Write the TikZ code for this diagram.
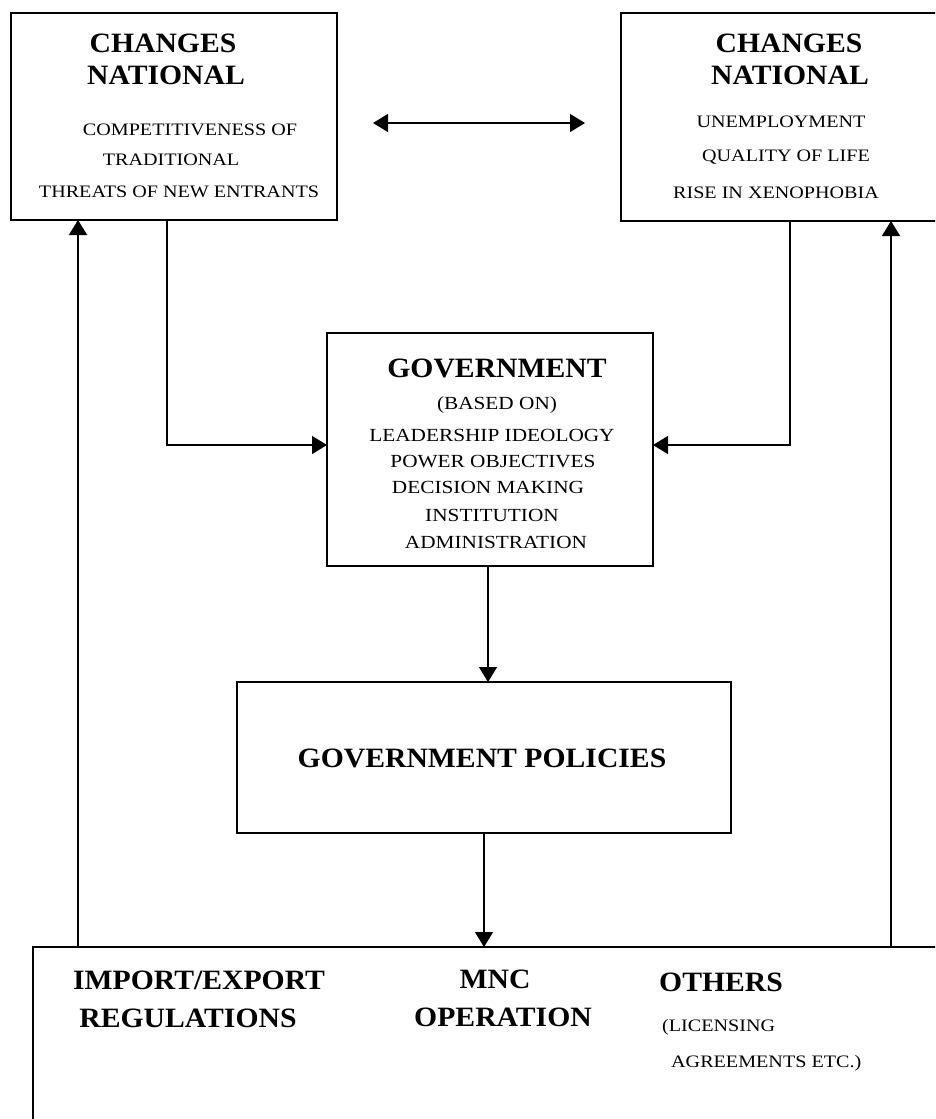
\documentclass[tikz,border=0pt]{standalone}
\usepackage{fontspec}
\setmainfont{Liberation Serif}
\newfontfamily\bodyf[FakeStretch=1.15]{Liberation Serif}
\newfontfamily\headf[FakeStretch=1.06]{Liberation Serif}
\usetikzlibrary{arrows.meta}
\begin{document}
\begin{tikzpicture}[x=1pt,y=-1pt,
  box/.style={draw, line width=1.6pt, inner sep=0pt, outer sep=0pt},
  conn/.style={line width=1.3pt},
  arr/.style={conn,-{Triangle[length=15pt,width=18pt]}},
  dbl/.style={conn,{Triangle[length=15pt,width=18pt]}-{Triangle[length=15pt,width=18pt]}},
  head/.style={font=\headf\bfseries\fontsize{28}{30}\selectfont, inner sep=0pt},
  body/.style={font=\bodyf\fontsize{17.5}{20}\selectfont, inner sep=0pt},
  gbody/.style={font=\bodyf\fontsize{18.5}{20}\selectfont, inner sep=0pt},
]
\clip (0,0) rectangle (935,1119);
\fill[white] (0,0) rectangle (935,1119);

% boxes
\node[box, minimum width=326pt, minimum height=207pt] (b1) at (174,116.5) {};
\node[box, minimum width=340pt, minimum height=208pt] (b2) at (791,117) {};
\node[box, minimum width=326pt, minimum height=233pt] (gov) at (490,449.5) {};
\node[box, minimum width=494pt, minimum height=151pt] (pol) at (484,757.5) {};
\node[box, minimum width=960pt, minimum height=260pt] (bot) at (513,1077) {};

% texts box 1
\node[head] (t1a) at (163,43) {CHANGES};
\node[head] (t1b) at (166,75) {NATIONAL};
\node[body] (t1c) at (190,130) {COMPETITIVENESS OF};
\node[body] (t1d) at (171,160) {TRADITIONAL};
\node[body] (t1e) at (179,192) {THREATS OF NEW ENTRANTS};

% texts box 2
\node[head] (t2a) at (789,43) {CHANGES};
\node[head] (t2b) at (790,75) {NATIONAL};
\node[body] (t2c) at (781,122) {UNEMPLOYMENT};
\node[body] (t2d) at (786,157) {QUALITY OF LIFE};
\node[body] (t2e) at (776,193) {RISE IN XENOPHOBIA};

% government
\node[head] (g1) at (497,368) {GOVERNMENT};
\node[gbody] (g2) at (497,405) {(BASED ON)};
\node[gbody] (g3) at (492,435) {LEADERSHIP IDEOLOGY};
\node[gbody] (g4) at (493,462) {POWER OBJECTIVES};
\node[gbody] (g5) at (488,487) {DECISION MAKING};
\node[gbody] (g6) at (492,515) {INSTITUTION};
\node[gbody] (g7) at (496,542) {ADMINISTRATION};

% policies
\node[head] (p1) at (482,758) {GOVERNMENT POLICIES};

% bottom
\node[head] (m1) at (199,980) {IMPORT/EXPORT};
\node[head] (m2) at (188,1018) {REGULATIONS};
\node[head] (m3) at (495,979) {MNC};
\node[head] (m4) at (503,1017) {OPERATION};
\node[head, anchor=west] (m5) at (659,982) {OTHERS};
\node[body, anchor=west] (m6) at (662,1027) {(LICENSING};
\node[body, anchor=west] (m7) at (671,1063) {AGREEMENTS ETC.)};

% connector columns
\coordinate (xL) at (78,0);
\coordinate (xl) at (167,0);
\coordinate (xr) at (790,0);
\coordinate (xR) at (891,0);
\coordinate (xm) at (488,0);
\coordinate (xp) at (484,0);
\coordinate (ya) at (0,123);
\coordinate (yg) at (0,445);

\draw[dbl, shorten <=36pt, shorten >=36pt] (b1.east |- ya) -- (b2.west |- ya);
\draw[arr] (b1.south -| xl) |- (gov.west |- yg);
\draw[arr] (b2.south -| xr) |- (gov.east |- yg);
\draw[arr] (gov.south -| xm) -- (pol.north -| xm);
\draw[arr] (pol.south -| xp) -- (bot.north -| xp);
\draw[arr] (bot.north -| xL) -- (b1.south -| xL);
\draw[arr] (bot.north -| xR) -- (b2.south -| xR);
\end{tikzpicture}
\end{document}
